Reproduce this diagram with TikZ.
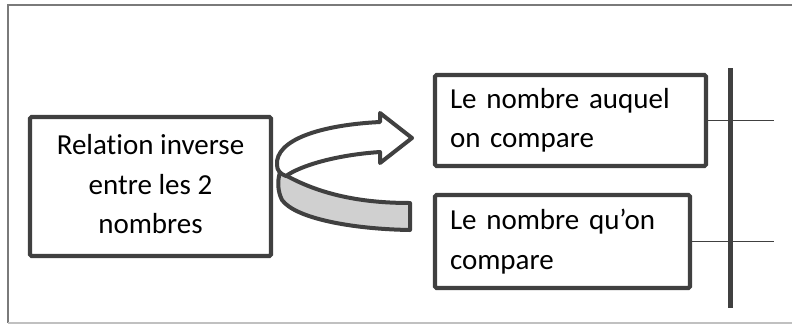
\documentclass[tikz,border=0pt]{standalone}
\usepackage{fontspec}
\setmainfont{Carlito}[Ligatures=NoCommon]
\definecolor{ink}{HTML}{404040}
\definecolor{band}{HTML}{D0D0D0}
\definecolor{frameA}{HTML}{7A7A7A}
\definecolor{frameB}{HTML}{C0C0C0}
\begin{document}
\begin{tikzpicture}[x=1pt,y=-1pt,
  box/.style={draw=ink, line width=4.2pt, rounded corners=1.5pt, fill=white,
    inner xsep=15pt, inner ysep=0pt, font=\fontsize{29}{39.5}\selectfont},
  link/.style={draw=ink, line width=1.3pt},
  arrowline/.style={draw=ink, line width=4pt, line join=round}]
\useasboundingbox (0,0) rectangle (792,325);
\begin{scope}
  \clip (0,0) rectangle (792,325);
  % outer frame (open on the right)
  \draw[frameA, line width=1.6pt] (800,5) -- (8,5) -- (8,323);
  \draw[frameB, line width=1.6pt] (8,323) -- (800,323);
\end{scope}

% boxes
\node[box, minimum width=241pt, minimum height=139pt, align=center]
  (rel) at (150.5,186.5) {Relation inverse\\entre les 2\\nombres\vphantom{l}\vspace*{4pt}};
\node[box, minimum height=91pt, text width=241pt, align=left]
  (auquel) at (570.5,120.5) {Le nombre auquel\\on compare};
\node[box, minimum height=93pt, text width=225pt, align=left]
  (quon) at (562.5,241.5) {Le nombre qu’on\\compare};

% vertical bar and its ties to the boxes
\coordinate (bartop) at (730,68);
\coordinate (barbot) at (730,308);
\coordinate (t1) at (774,120);
\coordinate (t2) at (774,235);
\draw[link] (auquel.east) -- (auquel.east -| t1);
\draw[link] (quon.east) -- (quon.east -| t2);
\draw[ink, line width=5pt] (bartop) -- (barbot);

% curved ribbon arrow: grey lower band
\filldraw[arrowline, fill=band]
  (280,172) .. controls (320,196) and (365,203) .. (410,203)
  -- (410,230)
  .. controls (350,229) and (295,218) .. (282,200)
  .. controls (278,192) and (277,182) .. (280,172) -- cycle;
% upper band with arrowhead
\filldraw[arrowline, fill=white]
  (277,165) .. controls (275,140) and (320,125) .. (380,122)
  -- (380,113) -- (412,138) -- (380,163) -- (380,152)
  .. controls (335,155) and (300,166) .. (286,176)
  .. controls (280,174) and (277,170) .. (277,165) -- cycle;
\end{tikzpicture}
\end{document}
